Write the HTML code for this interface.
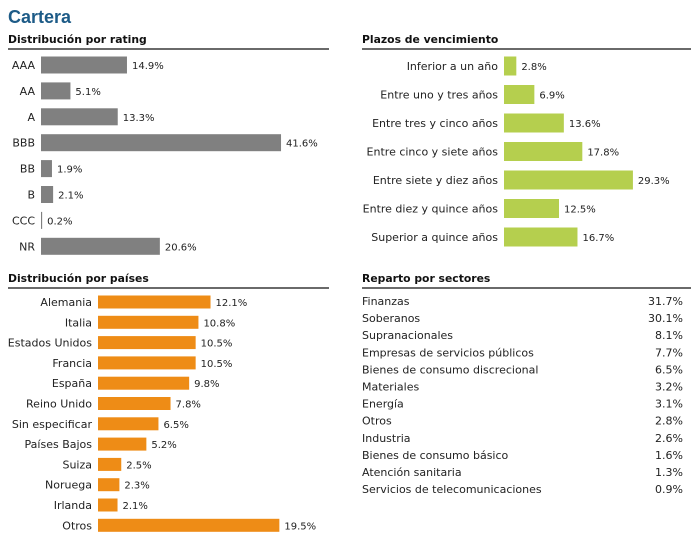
<!DOCTYPE html>
<html><head><meta charset="utf-8"><style>
body{margin:0;background:#fff;width:699px;height:547px;overflow:hidden}
svg{display:block;font-family:"DejaVu Sans","Liberation Sans",sans-serif}
</style></head><body>
<svg id="c" width="699" height="547">
<text x="8" y="23" font-size="18" font-weight="bold" fill="#1d5b87" font-family="Liberation Sans, sans-serif">Cartera</text>
</svg>
<script>
const ratingCats=["AAA","AA","A","BBB","BB","B","CCC","NR"];
const ratingVals=[14.9,5.1,13.3,41.6,1.9,2.1,0.2,20.6];
const plazoCats=["Inferior a un año","Entre uno y tres años","Entre tres y cinco años","Entre cinco y siete años","Entre siete y diez años","Entre diez y quince años","Superior a quince años"];
const plazoVals=[2.8,6.9,13.6,17.8,29.3,12.5,16.7];
const paisCats=["Alemania","Italia","Estados Unidos","Francia","España","Reino Unido","Sin especificar","Países Bajos","Suiza","Noruega","Irlanda","Otros"];
const paisVals=[12.1,10.8,10.5,10.5,9.8,7.8,6.5,5.2,2.5,2.3,2.1,19.5];
const sectorCats=["Finanzas","Soberanos","Supranacionales","Empresas de servicios públicos","Bienes de consumo discrecional","Materiales","Energía","Otros","Industria","Bienes de consumo básico","Atención sanitaria","Servicios de telecomunicaciones"];
const sectorVals=[31.7,30.1,8.1,7.7,6.5,3.2,3.1,2.8,2.6,1.6,1.3,0.9];

const svg=document.getElementById('c');
const NS="http://www.w3.org/2000/svg";
function mk(tag,attrs,txt){const e=document.createElementNS(NS,tag);for(const k in attrs)e.setAttribute(k,attrs[k]);if(txt!==undefined)e.textContent=txt;svg.appendChild(e);return e;}
function fmt(v){return v.toFixed(1)+"%";}
function header(x,y,x2,label,name){
  const t=mk('text',{x:x,y:y,'font-size':10.8,'font-weight':'bold',fill:'#111'},label);
  
  
  const l=mk('line',{x1:x,x2:x2,y1:y+6,y2:y+6,stroke:'#111','stroke-width':1.3});
  
  
}
function bars(cats,vals,x0,y0,step,scale,h,color,name){
  cats.forEach((c,i)=>{
    const cy=y0+i*step, w=vals[i]*scale;
    const lt=mk('text',{x:x0-6,y:cy+4,'font-size':11,fill:'#222','text-anchor':'end'},c);
    
    
    const r=mk('rect',{x:x0,y:cy-h/2,width:Math.max(w,1),height:h,fill:color});
    
    
    const vt=mk('text',{x:x0+w+5,y:cy+4,'font-size':10,fill:'#222'},fmt(vals[i]));
    
    
  });
}
header(8,43,329,"Distribución por rating","rating");
bars(ratingCats,ratingVals,41,65,25.9,5.77,17,"#808080","rating");
header(362,43,691,"Plazos de vencimiento","plazos");
bars(plazoCats,plazoVals,504,66,28.5,4.4,19,"#b5cf4e","plazos");
header(8,282,329,"Distribución por países","paises");
bars(paisCats,paisVals,98,302,20.3,9.3,13,"#ee8c16","paises");
header(362,282,691,"Reparto por sectores","sectores");
sectorCats.forEach((c,i)=>{
  const cy=301+i*17.1;
  const t=mk('text',{x:362,y:cy+4,'font-size':11,fill:'#222'},c);
  
  
  const v=mk('text',{x:683,y:cy+4,'font-size':11,fill:'#222','text-anchor':'end'},fmt(sectorVals[i]));
  
  
});
</script>
</body></html>
